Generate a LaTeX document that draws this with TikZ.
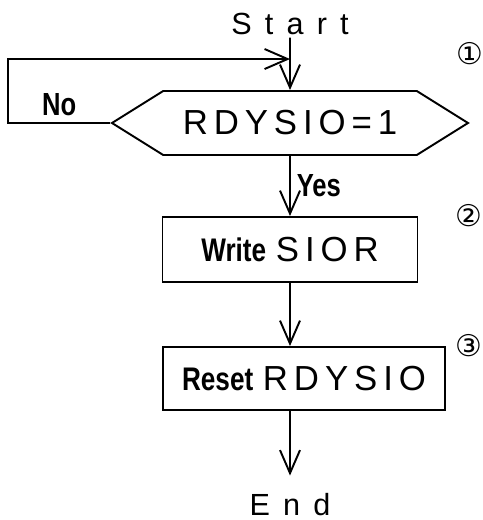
\documentclass[tikz,border=0pt]{standalone}
\usepackage{fontspec}
\setmainfont{Liberation Sans}
\newfontfamily\spacedfont[LetterSpace=43]{Liberation Sans}
\newfontfamily\widefont[LetterSpace=17]{Liberation Sans}
\newfontfamily\narrowfont[FakeStretch=0.8]{Liberation Sans}
\newfontfamily\circfont{DejaVu Sans}
\usetikzlibrary{arrows.meta,shapes.symbols,positioning}

% 寄存器名用宽字距, 操作名用窄粗体
\newcommand{\regname}[1]{{\widefont\fontsize{19.8}{24}\selectfont #1}}
\newcommand{\opname}[1]{{\narrowfont\bfseries\fontsize{18.6}{22}\selectfont #1}}

\begin{document}
\begin{tikzpicture}[node distance = 2cm, line width=1.1pt, >={Straight Barb[length=4.6mm,width=4mm]}]
    \useasboundingbox (-5.8,0.48) rectangle (3.84,-9.92);

    \tikzstyle{format}=[rectangle,draw,minimum height=1.3cm,inner sep=0pt,font=\fontsize{19.8}{24}\selectfont]  % 处理框
    \tikzstyle{test}=[signal,signal to=west and east,signal pointer angle=64,draw,minimum width=7.12cm,minimum height=1.28cm,inner sep=0pt]  % 判断框, 两头尖的六边形
    \tikzstyle{term}=[font=\spacedfont\fontsize{17.4}{20}\selectfont,inner sep=1pt]  % Start / End
    \tikzstyle{answer}=[font=\narrowfont\bfseries\fontsize{18.2}{20}\selectfont]  % Yes / No
    \tikzstyle{circnum}=[font=\circfont\fontsize{17}{20}\selectfont,inner sep=0pt]  % 步骤编号

    % 定义节点
    \node[term](start){Start};
    \node[test,below of=start,node distance=19.8mm](check){\regname{RDYSIO=1}};
    \node[format,minimum width=5.1cm,below of=check,node distance=25.3mm](write){\opname{Write} \regname{SIOR}};
    \node[format,minimum width=5.64cm,minimum height=1.26cm,below of=write,node distance=25.8mm,xshift=2.8mm](reset){\opname{Reset} \regname{RDYSIO}};
    \node[term,below of=write,node distance=51mm](end){End};
    \coordinate[above=6.2mm of check.north](join);

    % 编号
    \node[circnum,above=1.15cm of check.east](n1){①};
    \node[circnum,right=7.3mm of write.north east](n2){②};
    \node[circnum,right=1.8mm of reset.north east](n3){③};

    % 开始画线
    \draw[->](start)--(check);
    \draw[->](check)--node[answer,right]{Yes}(write);
    \draw[->](write)--(write|-reset.north);
    \draw[->,shorten >=3mm](write|-reset.south)--(end);
    \draw[->](check.west)--node[answer,above]{No}++(-2.04,0)|-(join);
\end{tikzpicture}
\end{document}
